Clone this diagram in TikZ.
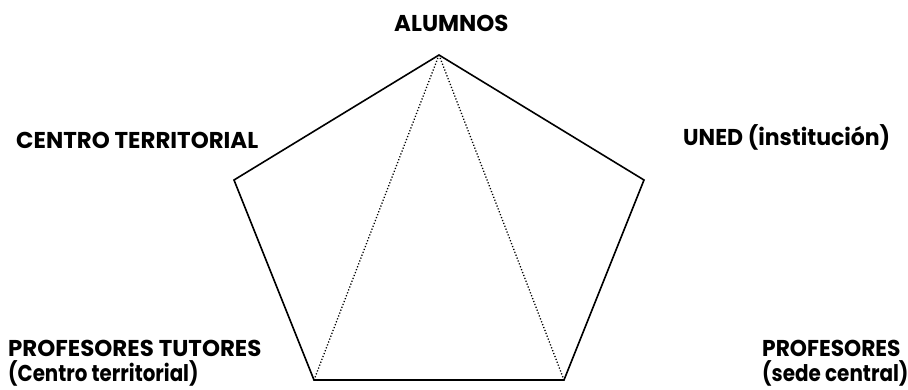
\documentclass[tikz,border=0pt]{standalone}
\usepackage{fontspec}
\usepackage{graphicx}
\setmainfont{Poppins}
\begin{document}
\begin{tikzpicture}[x=1bp,y=-1bp,
  lbl/.style={font=\fontsize{23}{27}\selectfont\bfseries, inner sep=0pt, anchor=base west},
  edge/.style={line width=1.6bp, line join=miter},
  dots/.style={line width=1.3bp, dash pattern=on 1.2bp off 1.9bp}]
\useasboundingbox (0,0) rectangle (908,389);
\coordinate (A) at (439,55);
\coordinate (L) at (234,180);
\coordinate (R) at (644,180);
\coordinate (BL) at (314,380);
\coordinate (BR) at (564,380);
\draw[edge] (A) -- (R) -- (BR) -- (BL) -- (L) -- cycle;
\draw[dots] (A) -- (BL);
\draw[dots] (A) -- (BR);
\node[lbl] (alumnos) at (394,31) {ALUMNOS};
\node[lbl] (centro) at (16,148) {CENTRO TERRITORIAL};
\node[lbl] (uned) at (683,145) {\scalebox{0.96}[1]{UNED (institución)}};
\node[lbl] (tut1) at (8,356) {PROFESORES TUTORES};
\node[lbl] (tut2) at (8,381) {\scalebox{0.865}[1]{(Centro territorial)}};
\node[lbl] (prof1) at (762,356) {\scalebox{0.95}[1]{PROFESORES}};
\node[lbl] (prof2) at (762,381) {\scalebox{0.87}[1]{(sede central)}};
\end{tikzpicture}
\end{document}
